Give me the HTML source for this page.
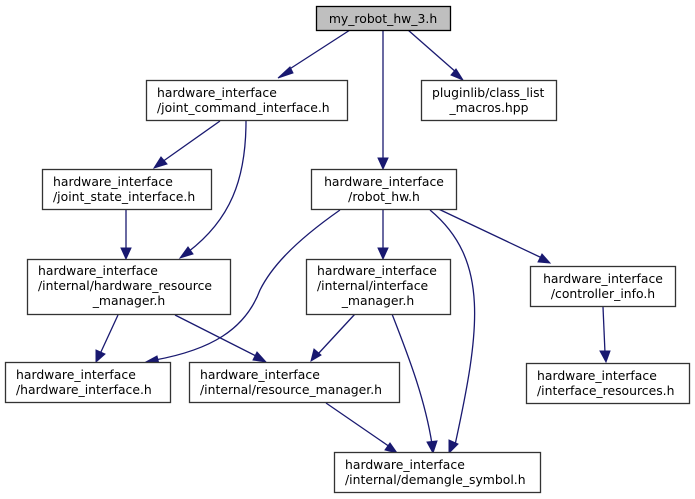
<!DOCTYPE html>
<html><head><meta charset="utf-8"><style>
html,body{margin:0;padding:0;background:#fff;}
svg{display:block;}
text{font-family:"DejaVu Sans",sans-serif;font-size:12.4px;fill:#000;}
.b{fill:#fff;stroke:#333;stroke-width:1.3;}
.e{fill:none;stroke:#191970;stroke-width:1.3;}
.a{fill:#191970;stroke:#191970;}
</style></head><body>
<svg width="695" height="499" viewBox="0 0 695 499">
<path class="e" d="M350,30 L285,72"/><polygon class="a" points="278,78 290,67 293,73"/>
<path class="e" d="M383,30 L383,160"/><polygon class="a" points="383,169 378,158 388,158"/>
<path class="e" d="M408,30 L457,73"/><polygon class="a" points="463,80 451,75 456,69"/>
<path class="e" d="M220,121 L162,162"/><polygon class="a" points="154,168 161,157 167,164"/>
<path class="e" d="M246,121 C246,180 230,220 188,252"/><polygon class="a" points="180,258 188,247 193,254"/>
<path class="e" d="M126,210 L126,250"/><polygon class="a" points="126,259 121,248 131,248"/>
<path class="e" d="M118,315 L100,354"/><polygon class="a" points="96,362 96,350 105,354"/>
<path class="e" d="M175,315 L258,357"/><polygon class="a" points="266,362 253,360 257,352"/>
<path class="e" d="M340,210 C290,245 270,270 260,290 C245,330 210,350 155,360"/><polygon class="a" points="146,362 157,356 159,364"/>
<path class="e" d="M383,210 L383,250"/><polygon class="a" points="383,259 378,248 388,248"/>
<path class="e" d="M430,210 C490,260 480,330 455,445"/><polygon class="a" points="449,453 449,440 458,444"/>
<path class="e" d="M430,205 L542,258"/><polygon class="a" points="550,263 538,262 542,254"/>
<path class="e" d="M355,314 L318,354"/><polygon class="a" points="311,361 314,349 321,355"/>
<path class="e" d="M392,314 C410,360 425,400 432,444"/><polygon class="a" points="433,453 427,442 437,441"/>
<path class="e" d="M326,403 L390,447"/><polygon class="a" points="397,453 385,450 390,443"/>
<path class="e" d="M603,307 L605,353"/><polygon class="a" points="606,362 600,351 610,351"/>
<rect x="316.5" y="6.5" width="134" height="24" style="fill:#bfbfbf;stroke:#000;stroke-width:1.3"/>
<text x="383" y="23" text-anchor="middle">my_robot_hw_3.h</text>
<rect class="b" x="146.5" y="80.5" width="201" height="40"/>
<text x="157" y="97">hardware_interface</text><text x="157" y="112">/joint_command_interface.h</text>
<rect class="b" x="421.5" y="80.5" width="135" height="40"/>
<text x="432" y="97">pluginlib/class_list</text><text x="489" y="112" text-anchor="middle">_macros.hpp</text>
<rect class="b" x="42.5" y="169.5" width="169" height="40"/>
<text x="53" y="186">hardware_interface</text><text x="53" y="201">/joint_state_interface.h</text>
<rect class="b" x="311.5" y="169.5" width="145" height="40"/>
<text x="384" y="186" text-anchor="middle">hardware_interface</text><text x="384" y="201" text-anchor="middle">/robot_hw.h</text>
<rect class="b" x="27.5" y="259.5" width="203" height="55"/>
<text x="38" y="275">hardware_interface</text><text x="38" y="290">/internal/hardware_resource</text><text x="129" y="305" text-anchor="middle">_manager.h</text>
<rect class="b" x="306.5" y="259.5" width="144" height="55"/>
<text x="317" y="275">hardware_interface</text><text x="317" y="290">/internal/interface</text><text x="378" y="305" text-anchor="middle">_manager.h</text>
<rect class="b" x="530.5" y="266.5" width="145" height="40"/>
<text x="603" y="283" text-anchor="middle">hardware_interface</text><text x="603" y="298" text-anchor="middle">/controller_info.h</text>
<rect class="b" x="5.5" y="362.5" width="165" height="40"/>
<text x="16" y="379">hardware_interface</text><text x="16" y="394">/hardware_interface.h</text>
<rect class="b" x="189.5" y="362.5" width="210" height="40"/>
<text x="200" y="379">hardware_interface</text><text x="200" y="394">/internal/resource_manager.h</text>
<rect class="b" x="526.5" y="363.5" width="163" height="40"/>
<text x="537" y="380">hardware_interface</text><text x="537" y="395">/interface_resources.h</text>
<rect class="b" x="334.5" y="452.5" width="206" height="40"/>
<text x="345" y="469">hardware_interface</text><text x="345" y="484">/internal/demangle_symbol.h</text>
</svg>
</body></html>
